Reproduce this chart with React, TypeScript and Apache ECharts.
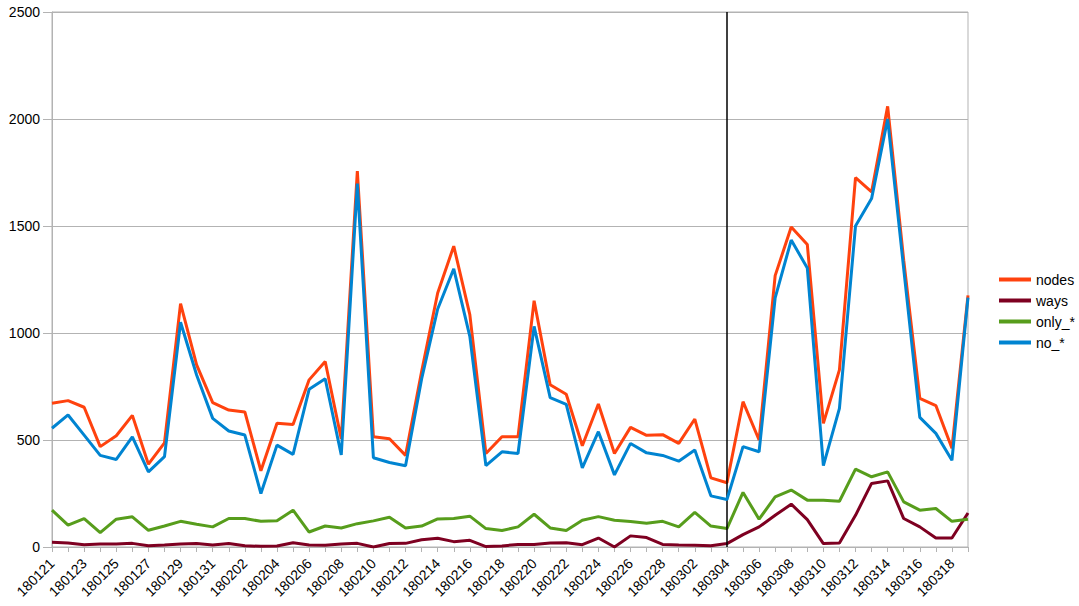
import React, { useEffect, useRef } from "react";
import * as echarts from "echarts";

const categories: string[] = [
  "180121", "180122", "180123", "180124", "180125", "180126", "180127", "180128", "180129", "180130", "180131",
  "180201", "180202", "180203", "180204", "180205", "180206", "180207", "180208", "180209", "180210",
  "180211", "180212", "180213", "180214", "180215", "180216", "180217", "180218", "180219", "180220",
  "180221", "180222", "180223", "180224", "180225", "180226", "180227", "180228",
  "180301", "180302", "180303", "180304", "180305", "180306", "180307", "180308", "180309", "180310",
  "180311", "180312", "180313", "180314", "180315", "180316", "180317", "180318", "180319",
];

const nodes: number[] = [
  672, 684, 653, 469, 520, 615, 387, 487, 1137, 851, 675,
  640, 631, 356, 578, 572, 781, 867, 505, 1757, 515,
  506, 428, 820, 1187, 1406, 1086, 437, 515, 515, 1151,
  758, 714, 473, 668, 437, 559, 522, 525,
  484, 598, 323, 300, 679, 500, 1268, 1495, 1414, 578,
  828, 1726, 1659, 2059, 1340, 695, 661, 461, 1176,
];

const ways: number[] = [
  22, 19, 11, 14, 14, 17, 6, 9, 14, 16, 9,
  16, 6, 3, 5, 20, 9, 8, 14, 17, 0,
  16, 17, 34, 41, 25, 31, 2, 5, 12, 12,
  19, 20, 11, 42, 0, 52, 44, 12,
  9, 8, 6, 16, 58, 94, 148, 200, 128, 16,
  19, 148, 297, 309, 133, 94, 42, 42, 159,
];

const onlyStar: number[] = [
  172, 102, 133, 67, 130, 141, 78, 98, 120, 106, 94,
  133, 133, 120, 123, 172, 70, 98, 89, 109, 122,
  139, 89, 98, 131, 133, 144, 86, 77, 94, 153,
  89, 77, 125, 142, 125, 119, 111, 120,
  94, 162, 98, 86, 255, 130, 234, 266, 219, 219,
  214, 364, 328, 351, 211, 172, 180, 120, 130,
];

const noStar: number[] = [
  555, 617, 523, 428, 409, 515, 351, 422, 1050, 804, 601,
  542, 523, 250, 476, 433, 737, 786, 430, 1698, 417,
  395, 380, 785, 1112, 1300, 984, 380, 445, 437, 1031,
  698, 667, 370, 539, 337, 484, 440, 428,
  401, 453, 239, 222, 469, 445, 1164, 1434, 1304, 380,
  648, 1500, 1628, 2000, 1300, 606, 531, 405, 1165,
];

const seriesNames = ["nodes", "ways", "only_*", "no_*"];
const seriesColors = ["#ff420e", "#7e0021", "#579d1c", "#0084d1"];
const markerCategory = "180304";

export default function App() {
  const ref = useRef<HTMLDivElement>(null);

  useEffect(() => {
    if (!ref.current) return;
    const chart = echarts.init(ref.current, undefined, { renderer: "svg" });
    const dataSets = [nodes, ways, onlyStar, noStar];
    const font = "'Liberation Sans', Arial, sans-serif";
    chart.setOption({
      animation: false,
      backgroundColor: "#ffffff",
      textStyle: { fontFamily: font, color: "#000" },
      grid: {
        left: 52,
        right: 111,
        top: 12,
        bottom: 59,
        show: true,
        borderColor: "#b3b3b3",
        borderWidth: 1,
      },
      legend: {
        orient: "vertical",
        left: 994,
        top: 266,
        icon: "rect",
        itemWidth: 32,
        itemHeight: 4,
        itemGap: 4,
        itemTextGap: 5,
        data: seriesNames,
        textStyle: { fontSize: 14, lineHeight: 17, color: "#000", fontFamily: font },
      },
      xAxis: {
        type: "category",
        data: categories,
        boundaryGap: false,
        axisLine: { lineStyle: { color: "#b3b3b3", width: 1 } },
        axisTick: { show: true, interval: 0, length: 5, lineStyle: { color: "#b3b3b3" } },
        axisLabel: {
          interval: 1,
          rotate: 45,
          fontSize: 14,
          margin: 14,
          color: "#000",
          fontFamily: font,
        },
        splitLine: { show: false },
      },
      yAxis: {
        type: "value",
        min: 0,
        max: 2500,
        interval: 500,
        axisLine: { show: true, lineStyle: { color: "#b3b3b3", width: 1 } },
        axisTick: { show: true, length: 9, lineStyle: { color: "#b3b3b3" } },
        axisLabel: {
          fontSize: 14,
          margin: 12,
          color: "#000",
          fontFamily: font,
          formatter: (v: number) => String(v),
        },
        splitLine: { show: true, lineStyle: { color: "#b3b3b3", width: 1 } },
      },
      series: dataSets.map((d, i) => ({
        name: seriesNames[i],
        type: "line",
        data: d,
        showSymbol: false,
        symbol: "none",
        color: seriesColors[i],
        lineStyle: { color: seriesColors[i], width: 3 },
        z: 2 + i,
        markLine:
          i === 0
            ? {
                silent: true,
                symbol: "none",
                label: { show: false },
                lineStyle: { color: "#000000", width: 1.5, type: "solid" },
                data: [{ xAxis: markerCategory }],
              }
            : undefined,
      })),
    });
    return () => chart.dispose();
  }, []);

  return (
    <div
      ref={ref}
      style={{ position: "fixed", left: 0, top: 0, width: 1079, height: 606 }}
    />
  );
}
